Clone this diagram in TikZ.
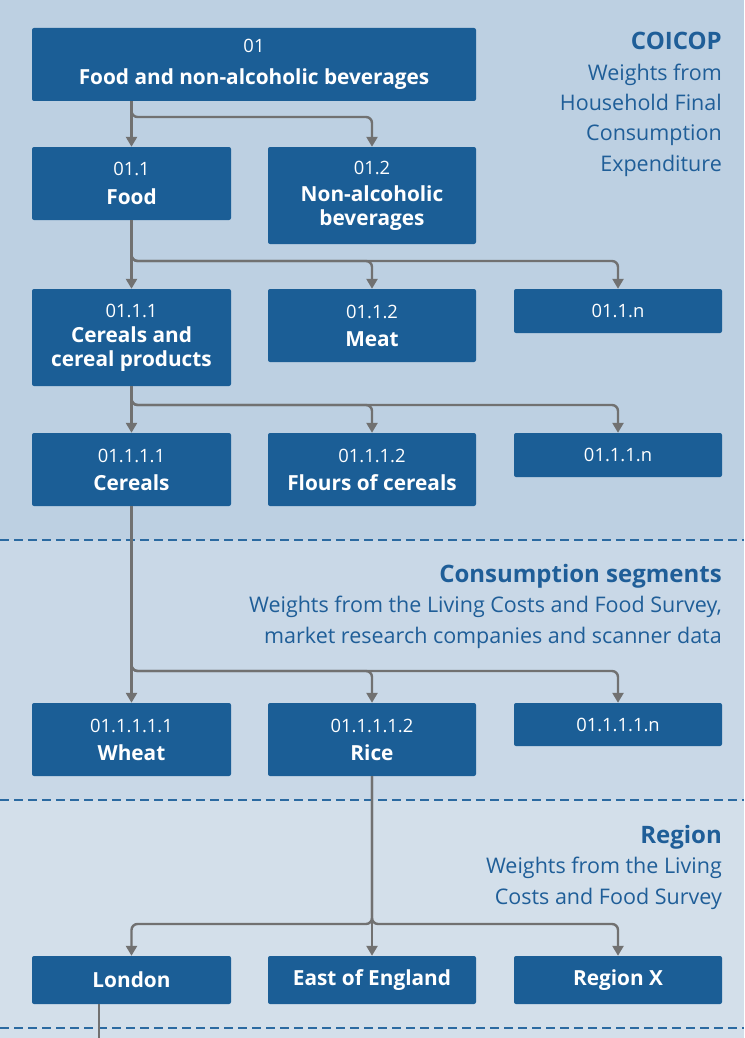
\documentclass[tikz,border=0pt]{standalone}
\usepackage{fontspec}
\setmainfont{Open Sans}
\usetikzlibrary{arrows.meta}

\definecolor{boxblue}{HTML}{1B5E96}
\definecolor{bandA}{HTML}{BDD0E2}
\definecolor{bandB}{HTML}{C9D8E7}
\definecolor{bandC}{HTML}{D3DFEA}
\definecolor{linkgrey}{HTML}{717171}
\definecolor{headblue}{HTML}{1F5E98}
\definecolor{dashblue}{HTML}{2B6AA1}

\tikzset{
  cat/.style={fill=boxblue, rounded corners=2pt, text=white, align=center, inner sep=0pt, font=\fontsize{20.8}{24}\selectfont},
  colA/.style={cat, minimum width=199pt},
  colB/.style={cat, minimum width=208pt},
  link/.style={draw=linkgrey, line width=2.4pt, rounded corners=6pt, -{Triangle[length=10pt,width=11pt]}},
  wire/.style={draw=linkgrey, line width=2.4pt},
  sep/.style={draw=dashblue, line width=2.4pt, dash pattern=on 9pt off 5pt},
  legend/.style={anchor=north east, align=right, text=headblue, inner sep=0pt, font=\fontsize{21.5}{30.4}\selectfont},
}
\newcommand{\code}[1]{{\fontsize{18.4}{24}\selectfont #1}}
\newcommand{\head}[1]{{\fontsize{24}{30.4}\selectfont\bfseries #1}}

\begin{document}
\begin{tikzpicture}[x=1pt, y=-1pt]
  %%%%% BANDS %%%%%
  \useasboundingbox (0,0) rectangle (744,1038);
  \fill[bandA] (0,0) rectangle (744,540);
  \fill[bandB] (0,540) rectangle (744,800);
  \fill[bandC] (0,800) rectangle (744,1038);
  \draw[sep] (0,540) -- (744,540);
  \draw[sep] (0,800) -- (744,800);
  \draw[sep] (0,1028) -- (744,1028);

  %%%%% LEGENDS %%%%%
  \node[legend] (coicop) at (722,32) {\head{COICOP}\\Weights from\\Household Final\\Consumption\\Expenditure};
  \node[legend] (segs) at (722,564) {\head{Consumption segments}\\Weights from the Living Costs and Food Survey,\\market research companies and scanner data};
  \node[legend] (region) at (722,825) {\head{Region}\\Weights from the Living\\Costs and Food Survey};

  %%%%% COICOP %%%%%
  \node[cat, minimum width=444pt, minimum height=73pt] (c01) at (254,64.5) {\code{01}\\[8pt]\textbf{Food and non-alcoholic beverages}};
  \node[colA, minimum height=73pt] (c011) at (131.5,183.5) {\code{01.1}\\[5pt]\textbf{Food}};
  \node[colB, minimum height=97pt] (c012) at (372,195.5) {\code{01.2}\\[3pt]\textbf{Non-alcoholic}\\\textbf{beverages}};

  \node[colA, minimum height=97pt] (c0111) at (131.5,337.5) {\code{01.1.1}\\[1pt]\textbf{Cereals and}\\\textbf{cereal products}};
  \node[colB, minimum height=73pt] (c0112) at (372,325.5) {\code{01.1.2}\\[4pt]\textbf{Meat}};
  \node[colB, minimum height=44pt] (c011n) at (618,311) {\code{01.1.n}};

  \node[colA, minimum height=73pt] (c01111) at (131.5,469.5) {\code{01.1.1.1}\\[4pt]\textbf{Cereals}};
  \node[colB, minimum height=73pt] (c01112) at (372,469.5) {\code{01.1.1.2}\\[4pt]\textbf{Flours of cereals}};
  \node[colB, minimum height=44pt] (c0111n) at (618,455) {\code{01.1.1.n}};

  %%%%% SEGMENTS %%%%%
  \node[colA, minimum height=73pt] (wheat) at (131.5,739.5) {\code{01.1.1.1.1}\\[4pt]\textbf{Wheat}};
  \node[colB, minimum height=73pt] (rice) at (372,739.5) {\code{01.1.1.1.2}\\[4pt]\textbf{Rice}};
  \node[colB, minimum height=43pt] (c01111n) at (618,724.5) {\code{01.1.1.1.n}};

  %%%%% REGIONS %%%%%
  \node[colA, minimum height=48pt] (london) at (131.5,980) {\textbf{London}};
  \node[colB, minimum height=48pt] (east) at (372,980) {\textbf{East of England}};
  \node[colB, minimum height=48pt] (regx) at (618,980) {\textbf{Region X}};

  %%%%% LINKS %%%%%
  \coordinate (b1) at (131.5,117);
  \coordinate (b2) at (131.5,261);
  \coordinate (b3) at (131.5,405);
  \coordinate (b4) at (131.5,671);
  \coordinate (b5) at (372,924);
  \coordinate (out) at (99,1038);

  \draw[link] (c01.south -| c011) -- (c011.north);
  \draw[link] (c01.south -| c011) -- (b1) -| (c012.north);

  \draw[link] (c011.south) -- (c0111.north);
  \draw[link] (c011.south) -- (b2) -| (c0112.north);
  \draw[link] (c011.south) -- (b2) -| (c011n.north);

  \draw[link] (c0111.south) -- (c01111.north);
  \draw[link] (c0111.south) -- (b3) -| (c01112.north);
  \draw[link] (c0111.south) -- (b3) -| (c0111n.north);

  \draw[link] (c01111.south) -- (wheat.north);
  \draw[link] (c01111.south) -- (b4) -| (rice.north);
  \draw[link] (c01111.south) -- (b4) -| (c01111n.north);

  \draw[link] (rice.south) -- (east.north);
  \draw[link] (rice.south) -- (b5) -| (london.north);
  \draw[link] (rice.south) -- (b5) -| (regx.north);

  \draw[wire] (london.south -| out) -- (out);
\end{tikzpicture}
\end{document}
